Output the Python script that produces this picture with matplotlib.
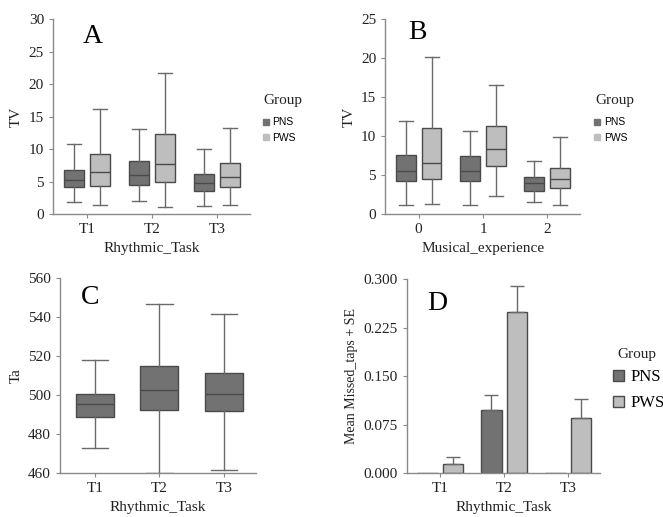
import numpy as np
import matplotlib
matplotlib.use("Agg")
import matplotlib.pyplot as plt
from matplotlib.patches import Patch
from matplotlib.lines import Line2D

plt.rcParams['font.family'] = ['Liberation Serif', 'DejaVu Serif']

dark = "#727272"
light = "#bebebe"
edge = "#4a4a4a"
whisk = "#6a6a6a"
spine = "#8a8a8a"

groups = ["PNS", "PWS"]

# panel A: TV by Rhythmic_Task  (whislo, q1, med, q3, whishi)
tasks = ["T1", "T2", "T3"]
tv_task_pns = [[1.85, 4.1, 5.3, 6.8, 10.8],
               [1.95, 4.5, 5.95, 8.2, 13.1],
               [1.18, 3.6, 4.82, 6.15, 10.05]]
tv_task_pws = [[1.33, 4.26, 6.46, 9.23, 16.2],
               [1.03, 4.92, 7.64, 12.36, 21.7],
               [1.33, 4.1, 5.74, 7.9, 13.18]]

# panel B: TV by Musical_experience
experience = ["0", "1", "2"]
tv_exp_pns = [[1.2, 4.27, 5.56, 7.52, 11.97],
              [1.2, 4.19, 5.56, 7.44, 10.64],
              [1.54, 2.95, 3.93, 4.79, 6.75]]
tv_exp_pws = [[1.28, 4.49, 6.58, 10.98, 20.1],
              [2.26, 6.2, 8.29, 11.24, 16.5],
              [1.11, 3.38, 4.53, 5.94, 9.83]]

# panel C: Ta by Rhythmic_Task
ta_task = [[473.0, 488.6, 495.6, 500.7, 517.8],
           [460.0, 492.6, 502.7, 514.7, 546.8],
           [461.7, 491.6, 500.7, 511.5, 541.7]]

# panel D: missed taps mean and mean + SE
missed_pns = [0.0, 0.0968, 0.0]
missed_pns_top = [0.0, 0.121, 0.0]
missed_pws = [0.0144, 0.2496, 0.0854]
missed_pws_top = [0.0252, 0.2887, 0.1148]


def stats(rows):
    out = []
    for lo, q1, med, q3, hi in rows:
        out.append(dict(whislo=lo, q1=q1, med=med, q3=q3, whishi=hi, fliers=[]))
    return out


def draw_box(ax, rows, pos, width, color):
    ax.bxp(stats(rows), positions=pos, widths=width, patch_artist=True,
           showfliers=False,
           boxprops=dict(facecolor=color, edgecolor=edge, linewidth=1.0),
           medianprops=dict(color=edge, linewidth=1.0),
           whiskerprops=dict(color=whisk, linewidth=1.0),
           capprops=dict(color=whisk, linewidth=1.0),
           capwidths=width * 0.7, manage_ticks=False)


def style(ax, labels, xlabel, ylabel):
    for s in ["top", "right"]:
        ax.spines[s].set_visible(False)
    for s in ["left", "bottom"]:
        ax.spines[s].set_color(spine)
        ax.spines[s].set_linewidth(1.0)
    ax.set_xticks(range(len(labels)))
    ax.set_xticklabels(labels)
    ax.tick_params(colors=spine, labelcolor="#222222", labelsize=11, length=3)
    ax.set_xlabel(xlabel, fontsize=11, color="#222222")
    ax.set_ylabel(ylabel, fontsize=11, color="#222222")
    ax.set_xlim(-0.52, 2.51)


def small_legend(ax, tx, ty, lx, ly):
    # title and entries placed separately, like the original layout
    ax.text(tx, ty, "Group", transform=ax.transAxes, fontsize=11,
            ha="left", va="center", color="#222222")
    handles = [Line2D([], [], marker="s", ls="", ms=5, color=dark, label="PNS"),
               Line2D([], [], marker="s", ls="", ms=5, color=light, label="PWS")]
    ax.legend(handles=handles, loc="upper left", bbox_to_anchor=(lx, ly),
              frameon=False, prop=dict(family="Liberation Sans", size=7.5),
              handletextpad=0.1, handlelength=1.0, labelspacing=0.55,
              borderpad=0, borderaxespad=0)


fig = plt.figure(figsize=(6.63, 5.17), dpi=100)
axA = fig.add_axes([0.080, 0.586, 0.297, 0.377])
axB = fig.add_axes([0.581, 0.586, 0.294, 0.377])
axC = fig.add_axes([0.0905, 0.085, 0.296, 0.377])
axD = fig.add_axes([0.614, 0.085, 0.291, 0.375])

x = np.arange(3)
off = 0.2
bw = 0.31

# A
draw_box(axA, tv_task_pns, x - off, bw, dark)
draw_box(axA, tv_task_pws, x + off, bw, light)
style(axA, tasks, "Rhythmic_Task", "TV")
axA.set_ylim(0, 30)
axA.set_yticks([0, 5, 10, 15, 20, 25, 30])
axA.text(0.2, 0.91, "A", transform=axA.transAxes, fontsize=20, ha="center", va="center")
small_legend(axA, 1.066, 0.58, 1.056, 0.497)

# B
draw_box(axB, tv_exp_pns, x - off, bw, dark)
draw_box(axB, tv_exp_pws, x + off, bw, light)
style(axB, experience, "Musical_experience", "TV")
axB.set_ylim(0, 25)
axB.set_yticks([0, 5, 10, 15, 20, 25])
axB.text(0.165, 0.93, "B", transform=axB.transAxes, fontsize=20, ha="center", va="center")
small_legend(axB, 1.077, 0.58, 1.062, 0.497)

# C
draw_box(axC, ta_task, x, 0.59, dark)
style(axC, tasks, "Rhythmic_Task", "Ta")
axC.set_ylim(460, 560)
axC.set_yticks([460, 480, 500, 520, 540, 560])
axC.set_xlim(-0.54, 2.5)
axC.text(0.153, 0.9, "C", transform=axC.transAxes, fontsize=20, ha="center", va="center")

# D
dw = 0.32
axD.bar(x - off, missed_pns, dw, color=dark, edgecolor=edge, linewidth=1.0)
axD.bar(x + off, missed_pws, dw, color=light, edgecolor=edge, linewidth=1.0)
for xi, m, t in zip(x - off, missed_pns, missed_pns_top):
    if t > m:
        axD.errorbar(xi, m, yerr=[[0], [t - m]], color=whisk, capsize=5, lw=1.0)
for xi, m, t in zip(x + off, missed_pws, missed_pws_top):
    if t > m:
        axD.errorbar(xi, m, yerr=[[0], [t - m]], color=whisk, capsize=5, lw=1.0)
style(axD, tasks, "Rhythmic_Task", "Mean Missed_taps + SE")
axD.yaxis.label.set_size(10)
axD.set_ylim(0, 0.3)
axD.set_yticks([0, 0.075, 0.15, 0.225, 0.3])
axD.set_yticklabels(["0.000", "0.075", "0.150", "0.225", "0.300"])
axD.set_xlim(-0.52, 2.5)
axD.text(0.155, 0.876, "D", transform=axD.transAxes, fontsize=20, ha="center", va="center")
axD.text(1.09, 0.61, "Group", transform=axD.transAxes, fontsize=11,
         ha="left", va="center", color="#222222")
big_handles = [Patch(facecolor=dark, edgecolor=edge, label="PNS"),
               Patch(facecolor=light, edgecolor=edge, label="PWS")]
axD.legend(handles=big_handles, loc="upper left", bbox_to_anchor=(1.066, 0.535),
           frameon=False, prop=dict(family="Liberation Serif", size=12),
           handletextpad=0.35, handlelength=0.7, handleheight=0.7,
           labelspacing=0.6, borderpad=0, borderaxespad=0)

fig.savefig("out.png", dpi=100)
